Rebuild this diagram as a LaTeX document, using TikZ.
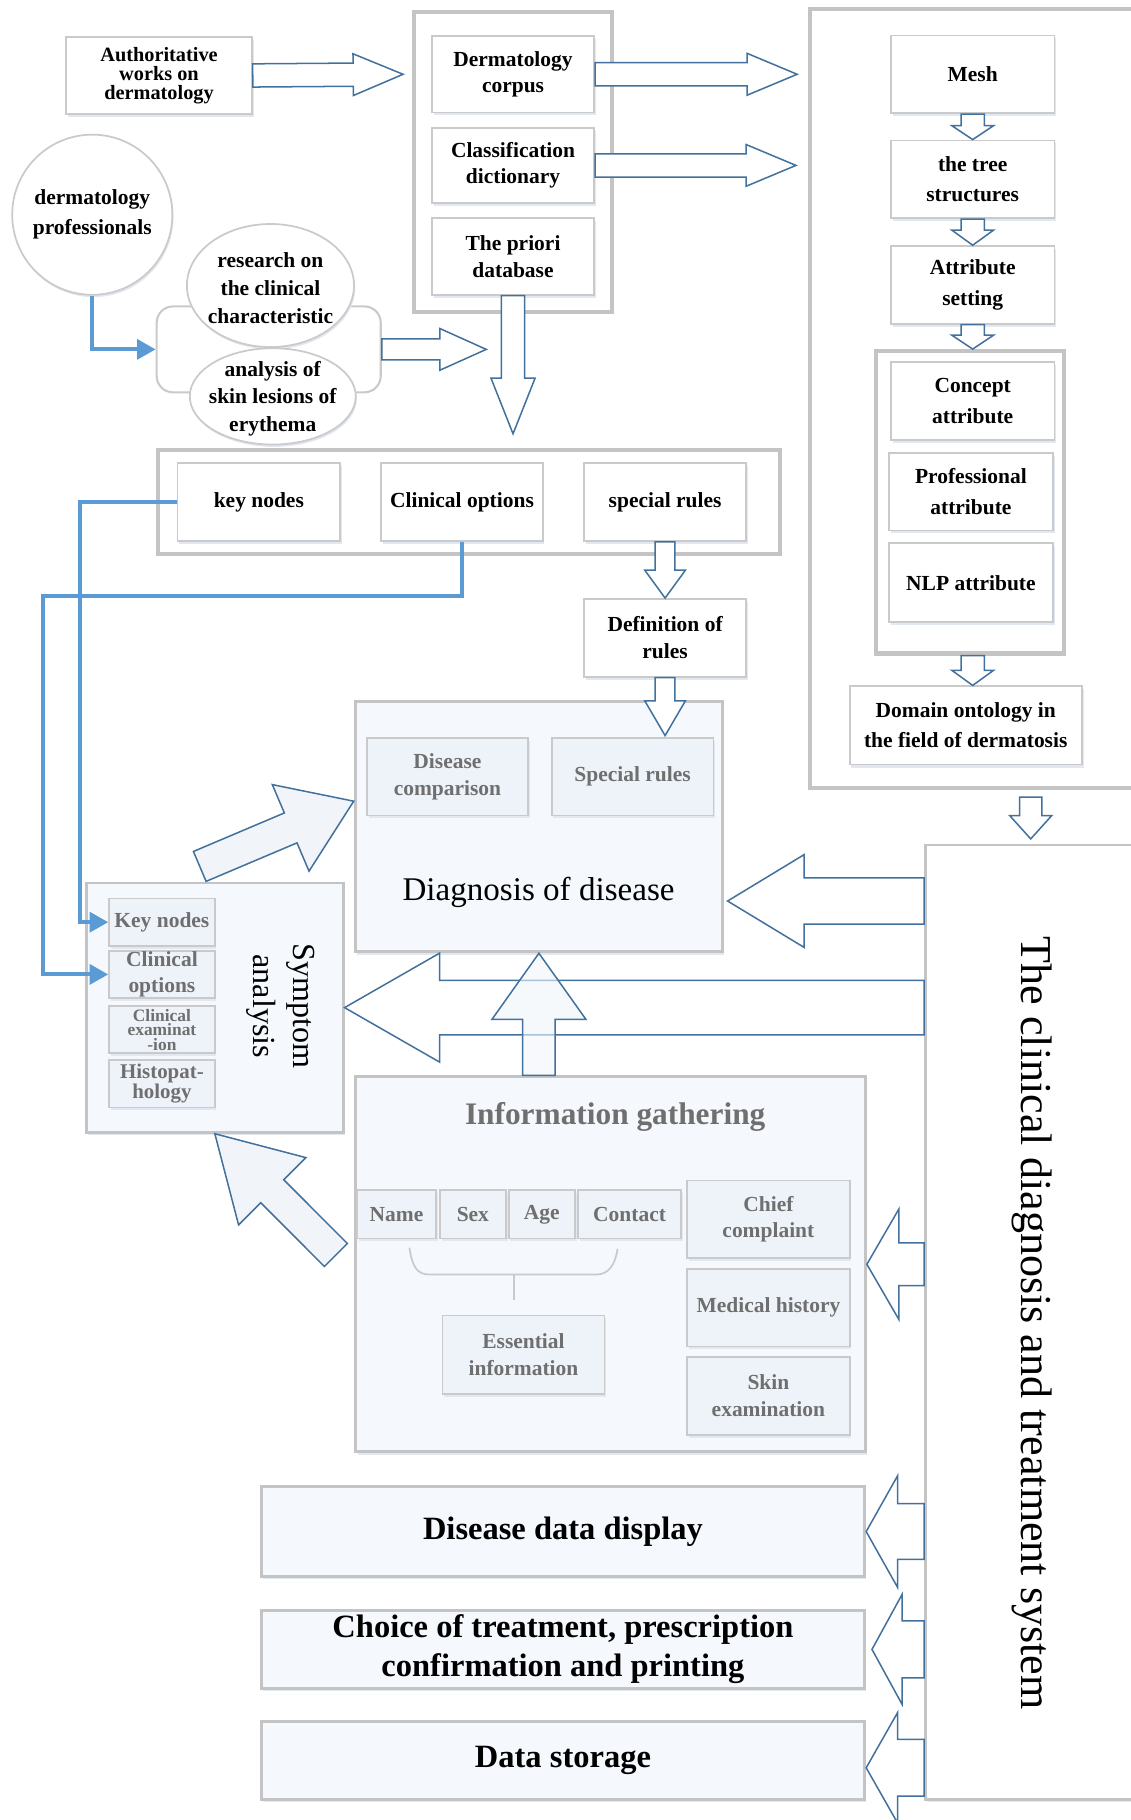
\documentclass[tikz,border=0pt]{standalone}
\usepackage{fontspec}
\setmainfont{Liberation Serif}
\usetikzlibrary{calc,shapes.geometric,shadows,arrows.meta}

\definecolor{edgegray}{HTML}{CACACA}
\definecolor{framegray}{HTML}{C4C4C4}
\definecolor{arrowblue}{HTML}{41719C}
\definecolor{linkblue}{HTML}{5B9BD5}
\definecolor{panelfill}{HTML}{F5F8FC}
\definecolor{subfill}{HTML}{EEF3FA}
\definecolor{subtext}{HTML}{6F6F6F}
\definecolor{shadowblue}{HTML}{E1E8F1}
\definecolor{arrowfill}{HTML}{F1F5FA}

\tikzset{
  box/.style={draw=edgegray, line width=1.5pt, fill=white, align=center, inner sep=0pt,
    font=\fontsize{18.5}{23}\selectfont\bfseries,
    drop shadow={shadow xshift=1.5pt, shadow yshift=-2.5pt, fill=shadowblue, opacity=1}},
  onto/.style={box, minimum width=141pt, minimum height=67pt,
    font=\fontsize{18.5}{26}\selectfont\bfseries},
  subbox/.style={box, fill=subfill, text=subtext},
  groupframe/.style={draw=framegray, line width=3.5pt, inner sep=0pt},
  panel/.style={draw=framegray, line width=2.5pt, fill=panelfill, inner sep=0pt,
    drop shadow={shadow xshift=1.5pt, shadow yshift=-2.5pt, fill=shadowblue, opacity=1}},
  bigbox/.style={panel, align=center, minimum width=520pt, font=\fontsize{28}{34}\selectfont\bfseries},
  oval/.style={ellipse, draw=edgegray, line width=1.5pt, fill=white, inner sep=0pt,
    drop shadow={shadow xshift=1pt, shadow yshift=-2pt, fill=shadowblue, opacity=1}},
  ovaltext/.style={align=center, font=\fontsize{18.5}{24}\selectfont\bfseries},
  tray/.style={draw=edgegray, line width=1.8pt, rounded corners=14pt},
  hollow/.style={draw=arrowblue, line width=1.3pt, fill=white, line join=miter},
  link/.style={draw=linkblue, line width=3.5pt, -{Triangle[length=16pt,width=17pt]}},
  bracket/.style={draw=edgegray, line width=1.5pt},
}

\newcommand{\hollowarrow}[6][]{%
  \path #2 coordinate (ha-s) #3 coordinate (ha-t);
  \path ($(ha-t)!#6pt!(ha-s)$) coordinate (ha-h);
  \draw[hollow,#1] ($(ha-s)!#4pt!90:(ha-t)$) -- ($(ha-h)!#4pt!-90:(ha-s)$)
    -- ($(ha-h)!#5pt!-90:(ha-s)$) -- (ha-t) -- ($(ha-h)!#5pt!90:(ha-s)$)
    -- ($(ha-h)!#4pt!90:(ha-s)$) -- ($(ha-s)!#4pt!-90:(ha-t)$) -- cycle;}

\begin{document}
\begin{tikzpicture}[x=1pt, y=-1pt]
\useasboundingbox (0,0) rectangle (974,1568);

\node[groupframe, minimum width=170pt, minimum height=259pt] (lexicon) at (442,139.5) {};
\node[groupframe, minimum width=302pt, minimum height=671pt] (ontology) at (849,343.5) {};
\node[groupframe, minimum width=162pt, minimum height=261pt] (attrgroup) at (836,432.5) {};
\node[groupframe, minimum width=536pt, minimum height=89pt] (rules) at (404,432.5) {};

\node[box, minimum width=160pt, minimum height=66pt,
  font=\fontsize{17.5}{16.5}\selectfont\bfseries] (auth) at (137,65) {Authoritative\\works on\\dermatology};
\node[box, minimum width=140pt, minimum height=66pt] (corpus) at (442,64) {Dermatology\\corpus};
\node[box, minimum width=140pt, minimum height=65pt] (dict) at (442,142.5) {Classification\\dictionary};
\node[box, minimum width=140pt, minimum height=66pt] (priori) at (442,221) {The priori\\database};

\node[oval, circle, minimum size=138pt, align=center,
  font=\fontsize{18.5}{26}\selectfont\bfseries] (prof) at (79.5,185) {dermatology\\professionals};
\node[tray, minimum width=193pt, minimum height=74pt] (clin) at (231.5,301) {};
\node[oval, minimum width=144pt, minimum height=106pt] (research) at (233,246) {};
\node[ovaltext] (researchtext) at ($(research)+(0,2)$) {research on\\the clinical\\characteristic};
\node[oval, minimum width=143pt, minimum height=83pt] (lesion) at (235,341.5) {};
\node[ovaltext] (lesiontext) at ($(lesion)+(0,2)$) {analysis of\\skin lesions of\\erythema};

\node[onto] (mesh) at (838,64) {Mesh};
\node[onto] (tree) at (838,154.5) {the tree\\structures};
\node[onto] (attr) at (838,245.5) {Attribute\\setting};
\node[onto] (concept) at (838,345.5) {Concept\\attribute};
\node[onto] (profattr) at (836.5,423.5) {Professional\\attribute};
\node[onto, minimum height=68pt] (nlp) at (836.5,502) {NLP attribute};
\node[onto, minimum width=200pt, minimum height=67.5pt] (domain) at (832,625) {Domain ontology in\\the field of dermatosis};

\node[box, minimum width=140pt, minimum height=67pt] (keynodes) at (223,432.5) {key nodes};
\node[box, minimum width=139pt, minimum height=67pt] (clinopt) at (398,432.5) {Clinical options};
\node[box, minimum width=140pt, minimum height=67pt] (specrules) at (573,432.5) {special rules};
\node[box, minimum width=140pt, minimum height=67pt] (defrules) at (573,549.5) {Definition of\\rules};

\node[panel, fill=white, minimum width=212.5pt, minimum height=822pt] (sys) at (903.75,1139) {};
\node[rotate=-90, font=\fontsize{38}{44}\selectfont] (systext) at (889,1140) {The clinical diagnosis and treatment system};

\node[panel, minimum width=316.6pt, minimum height=215.5pt] (diag) at (464.3,712.25) {};
\node[subbox, minimum width=139pt, minimum height=67pt] (dcomp) at (385.5,669) {Disease\\comparison};
\node[subbox, minimum width=139.5pt, minimum height=67pt] (dspec) at (545,669) {Special rules};
\node[font=\fontsize{28.5}{34}\selectfont] (diagtext) at (464,769) {Diagnosis of disease};

\node[panel, minimum width=221pt, minimum height=214.8pt] (symptom) at (185.1,868.1) {};
\node[subbox, minimum width=91pt, minimum height=41pt] (skey) at (139.5,794.5) {Key nodes};
\node[subbox, minimum width=91pt, minimum height=41pt] (sclin) at (139.5,839.5) {Clinical\\options};
\node[subbox, minimum width=91pt, minimum height=41pt,
  font=\fontsize{15}{12.5}\selectfont\bfseries] (sexam) at (139.5,887) {Clinical\\examinat\\-ion};
\node[subbox, minimum width=91pt, minimum height=41pt,
  font=\fontsize{18}{15}\selectfont\bfseries] (shist) at (139.5,933.7) {Histopat-\\hology};
\node[rotate=-90, align=center, font=\fontsize{27.7}{34.5}\selectfont] (symtext) at (242,867) {Symptom\\analysis};

\node[panel, minimum width=439pt, minimum height=322.8pt] (info) at (526.1,1089.2) {};
\node[text=subtext, font=\fontsize{27}{32}\selectfont\bfseries] (infotext) at (530,962) {Information gathering};
\node[subbox, minimum width=68pt, minimum height=41.5pt] (name) at (341.6,1046.2) {Name};
\node[subbox, minimum width=57pt, minimum height=41.5pt] (sex) at (407.4,1046.2) {Sex};
\node[subbox, minimum width=57pt, minimum height=41.5pt] (age) at (466.8,1046.2) {Age};
\node[subbox, minimum width=89pt, minimum height=41.5pt] (contact) at (542.4,1046.2) {Contact};
\node[subbox, minimum width=140pt, minimum height=67pt] (chief) at (662,1050.5) {Chief\\complaint};
\node[subbox, minimum width=140pt, minimum height=67pt] (medhist) at (662,1126.5) {Medical history};
\node[subbox, minimum width=140pt, minimum height=67pt] (skin) at (662,1202.5) {Skin\\examination};
\node[subbox, minimum width=139.5pt, minimum height=67.5pt] (essential) at (451,1167) {Essential\\information};
\draw[bracket] (352.8,1075) .. controls (355,1092) and (360,1098) .. (369.7,1098) -- (514,1098)
  .. controls (524,1098) and (530,1090) .. (532,1076);
\draw[bracket] (442.7,1098) -- (442.7,1120);

\node[bigbox, minimum height=77pt] (display) at (485,1319.5) {Disease data display};
\node[bigbox, minimum height=67pt] (choice) at (485,1421) {Choice of treatment, prescription\\confirmation and printing};
\node[bigbox, minimum height=67pt] (storage) at (485,1516.5) {Data storage};

\hollowarrow{(auth.east)}{($(corpus.west)+(-24,0)$)}{10}{18}{43}
\hollowarrow{(corpus.east)}{($(corpus.east)+(174,0)$)}{10}{18}{43}
\hollowarrow{(dict.east)}{($(dict.east)+(173,0)$)}{10}{18}{43}
\hollowarrow{(clin.east)}{($(clin.east)+(90,0)$)}{9}{18}{40}
\hollowarrow{(priori.south)}{($(priori.south)+(0,119)$)}{10}{19}{48}

\hollowarrow{(mesh.south)}{(tree.north)}{10}{18}{12}
\hollowarrow{(tree.south)}{(attr.north)}{10}{18}{13}
\hollowarrow{(attr.south)}{($(attr.south)+(0,21)$)}{10}{18}{12}
\hollowarrow{(attr.south |- attrgroup.south)}{(attr.south |- domain.north)}{10}{18}{13}
\hollowarrow{($(ontology.south)+(39,6)$)}{($(ontology.south)+(39,42)$)}{9.5}{18}{20}

\hollowarrow{(specrules.south)}{(defrules.north)}{8.5}{17.5}{24}
\hollowarrow{(defrules.south)}{($(defrules.south)+(0,50)$)}{8.5}{17.5}{30}

\coordinate (diagin) at ($(diag.south east)+(3,-45)$);
\coordinate (storein) at ($(storage.east)+(0,6.5)$);
\hollowarrow{(sys.west |- diagin)}{(diagin)}{20}{40}{66}
\hollowarrow{(sys.west |- symptom.east)}{(symptom.east)}{23.5}{47}{82}
\hollowarrow[fill=arrowfill, fill opacity=0.6]{(diag.south |- info.north)}{(diag.south)}{14}{40.5}{57}
\hollowarrow{(sys.west |- info.east)}{(info.east)}{18.5}{47.5}{27.5}
\hollowarrow{(sys.west |- display.east)}{(display.east)}{24}{48}{27}
\hollowarrow{(sys.west |- choice.east)}{($(choice.east)+(5,0)$)}{24.5}{47.5}{26}
\hollowarrow{(sys.west |- storein)}{(storein)}{24.5}{47.5}{27}

\hollowarrow[fill=arrowfill]{($(symptom.north)+(-13,-13)$)}{($(diag.north west)+(0,87)$)}{14}{40.5}{59}
\hollowarrow[fill=arrowfill]{($(info.west)+(-16,-8)$)}{(symptom.south)}{14}{41}{70}

\draw[link] (prof.south) |- (clin.west);
\draw[link] (keynodes.west) -- ++(-83,0) |- (skey.west);
\draw[link] (clinopt.south) -- ++(0,47) -| ($(sclin.west)+(-56,0)$) -- (sclin.west);
\end{tikzpicture}
\end{document}
